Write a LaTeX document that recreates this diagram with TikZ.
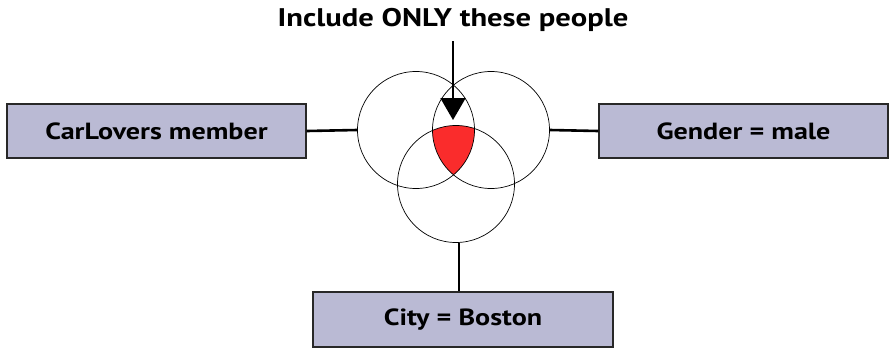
\documentclass[tikz,border=0pt]{standalone}
\usepackage{fontspec}
\setsansfont{PT Sans}[FakeStretch=1.2]
\usepackage{tikz}
\usetikzlibrary{arrows.meta}
\definecolor{critlav}{RGB}{186,186,212}
\definecolor{critline}{RGB}{40,40,40}
\definecolor{hitred}{RGB}{250,44,44}
\tikzset{
  critbox/.style={draw=critline,fill=critlav,line width=1.4pt,minimum height=54pt,inner sep=0pt,font=\fontsize{23.4}{26}\selectfont\sffamily\bfseries},
  setring/.style={draw=black,circle,line width=0.7pt,minimum size=117pt,inner sep=0pt},
  tie/.style={line width=2.6pt,draw=black},
  pointer/.style={-{Triangle[length=22pt,width=25pt]},line width=2pt},
}
\begin{document}
\begin{tikzpicture}[x=1pt,y=-1pt]
  \useasboundingbox (0,0) rectangle (889,349);
  % title
  \node[font=\fontsize{25.5}{28}\selectfont\sffamily\bfseries] (title) at (453,20) {Include ONLY these people};
  % overlap of all three sets
  \begin{scope}
    \clip (416,130) circle (58.5pt);
    \clip (491,130) circle (58.5pt);
    \fill[hitred] (456,184) circle (58.5pt);
  \end{scope}
  % sets
  \node[setring] (setcar) at (416,130) {};
  \node[setring] (setgen) at (491,130) {};
  \node[setring] (setcity) at (456,184) {};
  % criteria
  \node[critbox,minimum width=299pt] (car) at (156.5,131) {CarLovers member};
  \node[critbox,minimum width=289pt] (gender) at (743.5,131) {Gender = male};
  \node[critbox,minimum width=300pt,minimum height=55pt] (city) at (463,319.5) {City = Boston};
  \draw[tie] (car.east) -- (setcar.west);
  \draw[tie] (setgen.east) -- (gender.west);
  \draw[tie] ([xshift=3pt]setcity.south) -- ([xshift=3pt]setcity.south |- city.north);
  % pointer
  \coordinate (tip) at (453,120);
  \draw[pointer] (453,41) -- (tip);
\end{tikzpicture}
\end{document}
